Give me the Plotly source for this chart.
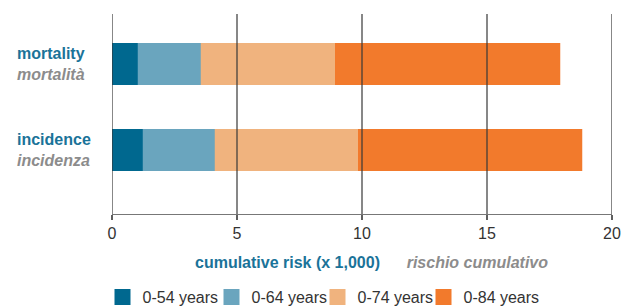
import plotly.graph_objects as go

categories = ["incidence", "mortality"]
label_en = {"incidence": "incidence", "mortality": "mortality"}
label_it = {"incidence": "incidenza", "mortality": "mortalità"}

age_groups = ["0-54 years", "0-64 years", "0-74 years", "0-84 years"]
# cumulative risk (x 1,000) per category [incidence, mortality]
risk_0_54 = [1.23, 1.03]
risk_0_64 = [4.11, 3.55]
risk_0_74 = [9.84, 8.92]
risk_0_84 = [18.81, 17.93]
series = [risk_0_54, risk_0_64, risk_0_74, risk_0_84]
colors = ["#00688f", "#6aa5be", "#f0b37e", "#f27a2c"]
legend_x = [-0.019, 0.199, 0.411, 0.623]

tick_vals = [0, 5, 10, 15, 20]

BLUE = "#1a7399"
GRAY = "#8c8c8c"
FONT = "Liberation Sans, Arial, sans-serif"

fig = go.Figure()
# overlay: longest drawn first, shorter on top
for name, vals, col in reversed(list(zip(age_groups, series, colors))):
    fig.add_trace(go.Bar(
        y=categories, x=vals, name=name, orientation="h", showlegend=False,
        marker=dict(color=col, line=dict(width=0)), width=0.49,
    ))

legend_layouts = {}
for i, (name, col, lx) in enumerate(zip(age_groups, colors, legend_x)):
    key = "legend" if i == 0 else f"legend{i + 1}"
    fig.add_trace(go.Scatter(
        x=[None], y=[None], mode="markers", name=name, legend=key, showlegend=True,
        marker=dict(symbol="square", size=16, color=col, line=dict(width=0)),
    ))
    legend_layouts[key] = dict(
        orientation="h", x=lx, xanchor="left", y=-0.415, yanchor="middle",
        itemsizing="trace", font=dict(family=FONT, size=16, color="#333333"),
        bgcolor="rgba(0,0,0,0)")

shapes = []
for v in tick_vals:
    shapes.append(dict(type="line", xref="x", yref="paper", x0=v, x1=v,
                       y0=0, y1=1, layer="above",
                       line=dict(color="rgba(55,55,55,0.8)", width=1.5)))

annotations = []
for c in categories:
    annotations.append(dict(
        xref="paper", yref="y", x=-0.194, y=c, xanchor="left", yanchor="middle",
        align="left", showarrow=False,
        text=f"<span style='color:{BLUE}'><b>{label_en[c]}</b></span><br>"
             f"<span style='color:{GRAY}'><b><i>{label_it[c]}</i></b></span>",
        font=dict(family=FONT, size=16)))
annotations.append(dict(
    xref="paper", yref="paper", x=0.518, y=-0.2435, xanchor="center", yanchor="middle",
    showarrow=False,
    text=f"<span style='color:{BLUE}'><b>cumulative risk (x 1,000)</b></span>"
         f"      <span style='color:{GRAY}'><b><i>rischio cumulativo</i></b></span>",
    font=dict(family=FONT, size=16)))

fig.update_layout(
    width=623, height=306,
    margin=dict(l=112, r=11, t=14, b=92, autoexpand=False),
    paper_bgcolor="white", plot_bgcolor="white",
    barmode="overlay",
    shapes=shapes, annotations=annotations,
    font=dict(family=FONT, size=16, color="#333333"),
    **legend_layouts,
)
fig.update_xaxes(range=[0, 20], tickvals=tick_vals, showgrid=False, zeroline=False,
                 showline=True, linecolor="#777777", linewidth=1.2,
                 ticks="outside", ticklen=5, tickwidth=1.5, tickcolor="rgba(55,55,55,0.8)",
                 tickfont=dict(family=FONT, size=16, color="#333333"),
                 fixedrange=True)
fig.update_yaxes(range=[-0.744, 1.581], showticklabels=False, showgrid=False,
                 zeroline=False, showline=False, ticks="", fixedrange=True)

# remove the default page margin so the figure fills the window exactly
fig.write_html("out.html",
               config={"displayModeBar": False},
               post_script="document.body.style.margin='0';"
                           "document.body.style.overflow='hidden';")
